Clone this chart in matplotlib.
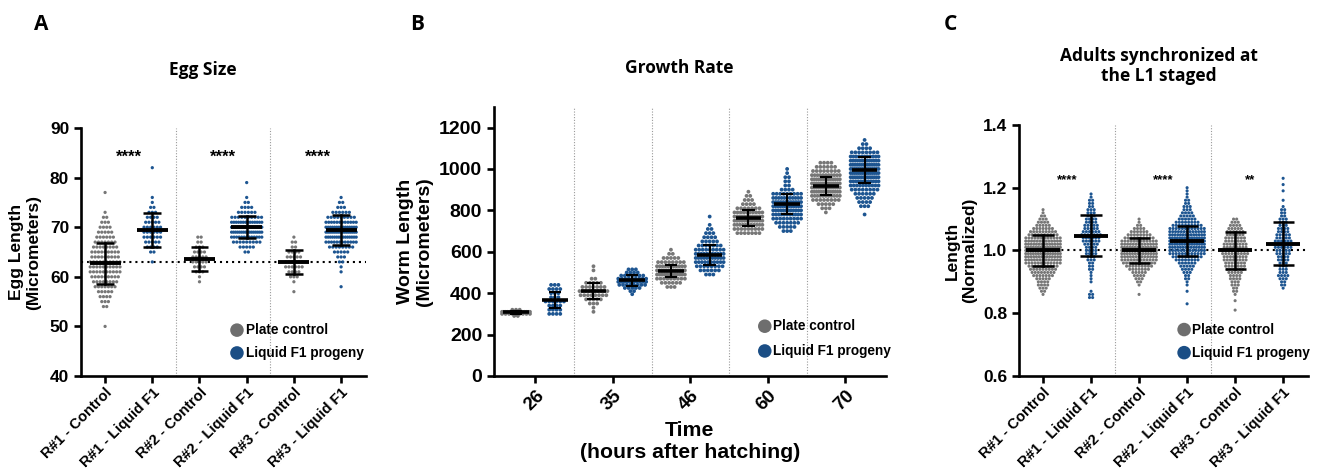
import numpy as np
import matplotlib
matplotlib.use('Agg')
import matplotlib.pyplot as plt

plt.rcParams['font.family'] = ['Liberation Sans', 'DejaVu Sans']
plt.rcParams['font.weight'] = 'bold'

# ---------------- DATA ----------------
# each group: (first value, bin step, counts per bin)
a_labels = ['R#1 - Control', 'R#1 - Liquid F1', 'R#2 - Control',
            'R#2 - Liquid F1', 'R#3 - Control', 'R#3 - Liquid F1']
a_kind = ['ctrl', 'liq', 'ctrl', 'liq', 'ctrl', 'liq']
a_r1_ctrl = (50.0, 1.0, [1, 0, 0, 0, 2, 3, 4, 5, 7, 8, 9, 10, 10, 10, 9, 9, 8, 7, 6, 5, 4, 3,
                         2, 1, 0, 0, 0, 1])
a_r1_liq = (63.0, 1.0, [1, 0, 2, 4, 5, 6, 6, 6, 5, 4, 3, 2, 1, 1, 0, 0, 0, 0, 0, 1])
a_r2_ctrl = (59.0, 1.0, [1, 1, 3, 4, 5, 5, 4, 3, 2, 2])
a_r2_liq = (65.0, 1.0, [2, 5, 9, 13, 16, 16, 14, 10, 6, 4, 2, 1, 0, 0, 1])
a_r3_ctrl = (57.0, 1.0, [1, 0, 1, 3, 4, 6, 6, 5, 4, 2, 2, 1])
a_r3_liq = (58.0, 1.0, [1, 0, 0, 1, 1, 2, 3, 5, 8, 12, 15, 16, 15, 12, 9, 6, 3, 2, 1])
a_hist = [a_r1_ctrl, a_r1_liq, a_r2_ctrl, a_r2_liq, a_r3_ctrl, a_r3_liq]
a_mean = [62.7, 69.4, 63.6, 70.0, 63.0, 69.5]
a_sd = [4.2, 3.4, 2.5, 2.2, 2.5, 3.0]
a_ref = 63.0
a_sig = ['****', '****', '****']

b_times = ['26', '35', '46', '60', '70']
b_26_ctrl = (290, 10, [2, 9, 16, 3])
b_26_liq = (300, 20, [4, 4, 4, 6, 3, 3, 4, 3])
b_35_ctrl = (310, 20, [1, 1, 3, 5, 8, 10, 7, 5, 2, 0, 1, 1])
b_35_liq = (395, 15, [1, 2, 5, 8, 10, 9, 7, 4, 3])
b_46_ctrl = (430, 20, [3, 6, 9, 12, 13, 11, 8, 5, 2, 1])
b_46_liq = (490, 20, [3, 6, 8, 10, 11, 11, 9, 7, 5, 4, 3, 2, 1, 0, 1])
b_60_ctrl = (690, 20, [7, 9, 11, 12, 12, 10, 7, 4, 3, 2, 1])
b_60_liq = (700, 20, [3, 5, 7, 9, 11, 12, 13, 12, 11, 9, 4, 2, 2, 2, 1, 1])
b_70_ctrl = (790, 20, [1, 3, 5, 8, 11, 13, 14, 14, 13, 11, 8, 6, 4])
b_70_liq = (780, 20, [1, 0, 3, 4, 5, 6, 8, 10, 12, 14, 15, 15, 14, 13, 11, 8, 4, 2, 1])
b_hist = [b_26_ctrl, b_26_liq, b_35_ctrl, b_35_liq, b_46_ctrl, b_46_liq,
          b_60_ctrl, b_60_liq, b_70_ctrl, b_70_liq]
b_kind = ['ctrl', 'liq'] * 5
b_mean = [308, 368, 412, 462, 508, 585, 762, 830, 918, 995]
b_sd = [8, 38, 38, 25, 28, 50, 38, 50, 45, 62]

c_labels = a_labels
c_kind = a_kind
c_r1_ctrl = (0.86, 0.01, [1, 2, 3, 4, 4, 5, 7, 8, 9, 10, 12, 13, 14, 15, 15, 15, 14, 13, 12,
                          10, 9, 7, 5, 4, 3, 2, 1, 1])
c_r1_liq = (0.85, 0.01, [2, 2, 1, 0, 0, 1, 1, 1, 1, 2, 2, 2, 3, 3, 4, 4, 4, 5, 6, 6, 7, 6, 5, 5,
                         4, 4, 3, 3, 3, 2, 2, 2, 1, 1])
c_r2_ctrl = (0.86, 0.01, [1, 0, 0, 1, 2, 3, 4, 5, 7, 9, 11, 12, 13, 14, 14, 14, 13, 12, 10,
                          8, 6, 4, 2, 1, 1])
c_r2_liq = (0.83, 0.01, [1, 0, 0, 0, 1, 0, 1, 1, 2, 2, 3, 4, 5, 6, 8, 10, 12, 13, 14, 15, 15,
                         15, 14, 13, 12, 10, 8, 6, 5, 4, 3, 3, 2, 2, 1, 1, 1, 1])
c_r3_ctrl = (0.81, 0.01, [1, 0, 0, 1, 0, 1, 2, 2, 3, 3, 4, 4, 5, 6, 7, 7, 8, 8, 9, 9, 8, 8, 7,
                          7, 6, 6, 5, 4, 3, 2])
c_r3_liq = (0.88, 0.01, [1, 2, 2, 3, 4, 3, 3, 3, 3, 4, 4, 5, 5, 6, 7, 6, 5, 5, 4, 4, 3, 3, 3, 2,
                         2, 2, 1, 0, 1, 0, 0, 1, 0, 1, 0, 1])
c_hist = [c_r1_ctrl, c_r1_liq, c_r2_ctrl, c_r2_liq, c_r3_ctrl, c_r3_liq]
c_mean = [1.0, 1.047, 1.0, 1.03, 1.0, 1.022]
c_sd = [0.048, 0.066, 0.04, 0.048, 0.058, 0.068]
c_ref = 1.0
c_sig = ['****', '****', '**']

legend_labels = ['Plate control', 'Liquid F1 progeny']

# ---------------- STYLE ----------------
COL = {'ctrl': '#777777', 'liq': '#1d5591'}
LEG_COL = {'ctrl': '#6e6e6e', 'liq': '#1b4e85'}
TITLE_FONT = ['Open Sans', 'DejaVu Sans']
BOLD = 'bold'


def expand(hist):
    start, step, counts = hist
    vals = []
    for i, c in enumerate(counts):
        vals += [round(start + i * step, 6)] * c
    return np.array(vals)


def swarm(ax, xc, vals, d, maxhalf, color, s):
    xs, ys = [], []
    rows = np.unique(vals)
    for v in rows:
        n = int(np.sum(vals == v))
        sp = d
        if n > 1 and (n - 1) * d > 2 * maxhalf:
            sp = 2 * maxhalf / (n - 1)
        off = (np.arange(n) - (n - 1) / 2.0) * sp
        xs += list(xc + off)
        ys += [v] * n
    ax.scatter(xs, ys, s=s, c=color, edgecolors='none', zorder=3)


def meansd(ax, xc, m, sd, hw, cw, lw1, lw2):
    ax.plot([xc - hw, xc + hw], [m, m], color='k', lw=lw1, zorder=5, solid_capstyle='butt')
    ax.plot([xc, xc], [m - sd, m + sd], color='k', lw=lw2, zorder=5)
    for y in (m - sd, m + sd):
        ax.plot([xc - cw, xc + cw], [y, y], color='k', lw=lw2, zorder=5, solid_capstyle='butt')


def style_axes(ax, ytick_fs, xtick_fs, xpad=3):
    for sp in ('top', 'right'):
        ax.spines[sp].set_visible(False)
    for sp in ('left', 'bottom'):
        ax.spines[sp].set_linewidth(1.9)
    ax.tick_params(axis='both', width=1.9, length=5, direction='out')
    ax.tick_params(axis='x', pad=xpad)
    for lab in ax.get_yticklabels():
        lab.set_fontsize(ytick_fs)
        lab.set_fontweight(BOLD)
    for lab in ax.get_xticklabels():
        lab.set_fontsize(xtick_fs)
        lab.set_fontweight(BOLD)


def legend(ax, xm, xt, y1, y2, fs):
    for y, k, lab in ((y1, 'ctrl', legend_labels[0]), (y2, 'liq', legend_labels[1])):
        ax.scatter([xm], [y], s=95, c=LEG_COL[k], edgecolors='none', transform=ax.transAxes,
                   clip_on=False, zorder=6)
        ax.text(xt, y, lab, transform=ax.transAxes, fontsize=fs, fontweight=BOLD,
                va='center', ha='left', zorder=6)


fig = plt.figure(figsize=(13.26, 4.71), dpi=100)

# ---------------- Panel A ----------------
axA = fig.add_axes([0.0611, 0.2017, 0.2150, 0.5265])
xa = np.arange(len(a_labels))
axA.axhline(a_ref, color='k', lw=1.5, ls=(0, (1, 1.9)), zorder=1)
for xs in (1.5, 3.5):
    axA.axvline(xs, color='#9a9a9a', lw=0.8, ls=(0, (1, 1.5)), zorder=1)
for i, h in enumerate(a_hist):
    swarm(axA, xa[i], expand(h), 0.07, 0.32, COL[a_kind[i]], 5.5)
    meansd(axA, xa[i], a_mean[i], a_sd[i], 0.33, 0.19, 2.8, 1.8)
for j, t in enumerate(a_sig):
    axA.text(2 * j + 0.5, 84.2, t, ha='center', va='center', fontsize=12, fontweight=BOLD)
axA.set_xlim(-0.51, 5.53)
axA.set_ylim(40, 90)
axA.set_yticks(np.arange(40, 91, 10))
axA.set_xticks(xa)
axA.set_xticklabels(a_labels, rotation=45, ha='right', rotation_mode='anchor')
style_axes(axA, 12.5, 10.6, xpad=2)
axA.set_ylabel('Egg Length\n(Micrometers)', fontsize=12.5, fontweight=BOLD, labelpad=6)
legend(axA, 0.547, 0.578, 0.185, 0.093, 9.8)

# ---------------- Panel B ----------------
axB = fig.add_axes([0.3725, 0.2017, 0.2956, 0.5715])
xb = np.arange(len(b_hist))
for xs in (1.5, 3.5, 5.5, 7.5):
    axB.axvline(xs, color='#9a9a9a', lw=0.8, ls=(0, (1, 1.5)), zorder=1)
for i, h in enumerate(b_hist):
    swarm(axB, xb[i], expand(h), 0.095, 0.36, COL[b_kind[i]], 7.5)
    meansd(axB, xb[i], b_mean[i], b_sd[i], 0.33, 0.16, 2.6, 1.5)
axB.set_xlim(-0.57, 9.55)
axB.set_ylim(0, 1300)
axB.set_yticks(np.arange(0, 1201, 200))
axB.set_xticks(np.arange(0.5, 10, 2))
axB.set_xticklabels(b_times, rotation=45, ha='right', rotation_mode='anchor')
style_axes(axB, 14, 13.5)
axB.set_ylabel('Worm Length\n(Micrometers)', fontsize=14, fontweight=BOLD, labelpad=4)
axB.set_xlabel('Time\n(hours after hatching)', fontsize=15.3, fontweight=BOLD, labelpad=5)
legend(axB, 0.691, 0.712, 0.185, 0.093, 9.8)

# ---------------- Panel C ----------------
axC = fig.add_axes([0.7685, 0.2017, 0.2180, 0.5330])
xc = np.arange(len(c_labels))
axC.axhline(c_ref, color='k', lw=1.5, ls=(0, (1, 1.9)), zorder=1)
for xs in (1.5, 3.5):
    axC.axvline(xs, color='#9a9a9a', lw=0.8, ls=(0, (1, 1.5)), zorder=1)
for i, h in enumerate(c_hist):
    swarm(axC, xc[i], expand(h), 0.065, 0.36, COL[c_kind[i]], 5.0)
    meansd(axC, xc[i], c_mean[i], c_sd[i], 0.35, 0.22, 2.8, 1.8)
for j, t in enumerate(c_sig):
    xpos = 2 * j + 0.5 if t == '****' else 2 * j + 0.32
    axC.text(xpos, 1.225, t, ha='center', va='center', fontsize=9.5, fontweight=BOLD)
axC.set_xlim(-0.5, 5.52)
axC.set_ylim(0.6, 1.4)
axC.set_yticks(np.arange(0.6, 1.41, 0.2))
axC.set_yticklabels(['0.6', '0.8', '1.0', '1.2', '1.4'])
axC.set_xticks(xc)
axC.set_xticklabels(c_labels, rotation=45, ha='right', rotation_mode='anchor')
style_axes(axC, 12.5, 10.6, xpad=2)
axC.set_ylabel('Length\n(Normalized)', fontsize=12.5, fontweight=BOLD, labelpad=4)
legend(axC, 0.571, 0.598, 0.185, 0.093, 9.8)

# ---------------- titles and panel letters ----------------
fig.text(0.153, 0.851, 'Egg Size', ha='center', va='center', fontsize=12.5,
         fontweight=BOLD, family=TITLE_FONT)
fig.text(0.512, 0.856, 'Growth Rate', ha='center', va='center', fontsize=12.5,
         fontweight=BOLD, family=TITLE_FONT)
fig.text(0.874, 0.860, 'Adults synchronized at\nthe L1 staged', ha='center', va='center',
         fontsize=12.5, fontweight=BOLD, family=TITLE_FONT, linespacing=1.2)
for x, t in ((0.031, 'A'), (0.3145, 'B'), (0.717, 'C')):
    fig.text(x, 0.947, t, ha='center', va='center', fontsize=15, fontweight=BOLD,
             family=TITLE_FONT)

fig.savefig('out.png', dpi=100)
